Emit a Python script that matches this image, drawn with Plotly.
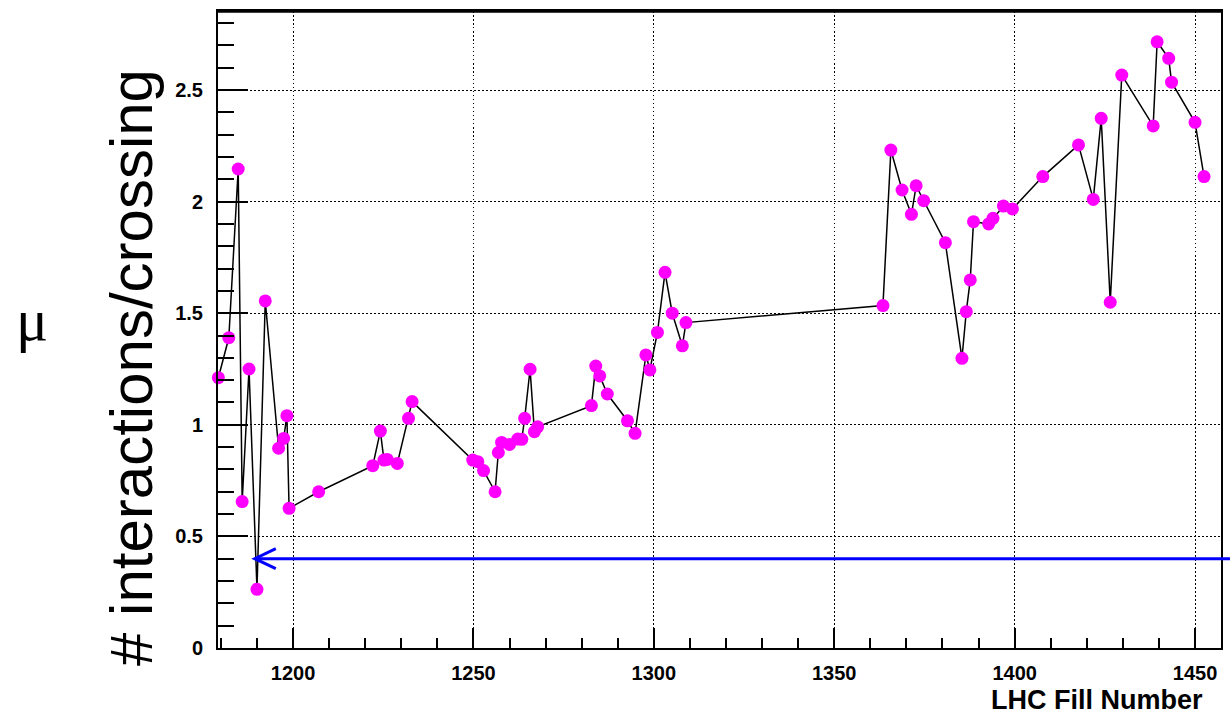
import plotly.graph_objects as go

# Average pile-up per LHC fill
fill_number = [1179.3, 1182.2, 1184.8, 1185.9, 1187.8, 1190.0, 1192.3, 1196.0, 1197.4, 1198.3,
               1198.9, 1207.1, 1222.1, 1224.2, 1225.2, 1226.1, 1228.9, 1232.0, 1233.0, 1249.8,
               1251.2, 1252.8, 1256.0, 1256.9, 1257.8, 1260.0, 1262.3, 1263.4, 1264.2, 1265.7,
               1266.9, 1267.8, 1282.7, 1283.9, 1285.0, 1287.1, 1292.7, 1294.8, 1297.8, 1298.9,
               1301.0, 1303.1, 1305.1, 1307.9, 1308.9, 1363.5, 1365.7, 1368.8, 1371.4, 1372.7,
               1374.8, 1380.8, 1385.4, 1386.6, 1387.7, 1388.6, 1392.8, 1394.0, 1396.9, 1399.4,
               1407.8, 1417.7, 1421.8, 1424.0, 1426.5, 1429.7, 1438.4, 1439.5, 1442.7, 1443.5,
               1450.0, 1452.5]
mu = [1.211, 1.390, 2.146, 0.656, 1.250, 0.263, 1.555, 0.895, 0.939, 1.041,
      0.626, 0.700, 0.817, 0.972, 0.842, 0.845, 0.827, 1.029, 1.104, 0.842,
      0.835, 0.795, 0.700, 0.876, 0.921, 0.912, 0.936, 0.935, 1.029, 1.249,
      0.969, 0.991, 1.086, 1.263, 1.219, 1.138, 1.018, 0.962, 1.313, 1.246,
      1.414, 1.683, 1.500, 1.354, 1.458, 1.534, 2.231, 2.052, 1.943, 2.071,
      2.004, 1.816, 1.298, 1.507, 1.649, 1.910, 1.900, 1.925, 1.980, 1.967,
      2.112, 2.254, 2.010, 2.373, 1.549, 2.567, 2.339, 2.716, 2.642, 2.535,
      2.355, 2.112]

x_range = [1179.2, 1457.2]
y_range = [0, 2.854]
x_ticks = [1200, 1250, 1300, 1350, 1400, 1450]
y_ticks = [0, 0.5, 1, 1.5, 2, 2.5]

# Reference level marked by the arrow
arrow_level = 0.4
arrow_tip_fill = 1189.4

fig = go.Figure()
fig.add_trace(go.Scatter(
    x=fill_number, y=mu, mode="lines+markers",
    line=dict(color="black", width=1.5),
    marker=dict(color="#ff00ff", size=13, line=dict(width=0)),
    cliponaxis=False, showlegend=False,
))

tick_font = dict(family="Liberation Sans, Arial, sans-serif", size=20, color="black", weight="bold")

fig.update_xaxes(
    range=x_range, tickvals=x_ticks, ticks="inside", ticklen=20, tickwidth=2, tickcolor="black",
    minor=dict(ticks="inside", ticklen=10, tickwidth=2, tickcolor="black", dtick=10, tick0=1200, showgrid=False),
    showgrid=True, gridcolor="black", gridwidth=1.4, griddash="1.5px,2.5px",
    showline=True, linecolor="black", linewidth=2, mirror=True,
    zeroline=False, tickfont=tick_font, ticklabelstandoff=6,
)
fig.update_yaxes(
    range=y_range, tickvals=y_ticks, ticks="inside", ticklen=30, tickwidth=2, tickcolor="black",
    minor=dict(ticks="inside", ticklen=16, tickwidth=2, tickcolor="black", dtick=0.1, tick0=0, showgrid=False),
    showgrid=True, gridcolor="black", gridwidth=1.4, griddash="1.5px,2.5px",
    showline=True, linecolor="black", linewidth=2, mirror=True,
    zeroline=False, tickfont=tick_font, ticklabelstandoff=9,
)

# Heavier frame edge along the top
fig.add_shape(type="line", xref="paper", yref="paper", x0=0, x1=1, y0=1, y1=1,
              line=dict(color="black", width=3.5))

# Arrow: shaft running off the right edge, open head at the tip
tip_frac = (arrow_tip_fill - x_range[0]) / (x_range[1] - x_range[0])
fig.add_shape(type="line", xref="paper", yref="y", x0=tip_frac, x1=1.02,
              y0=arrow_level, y1=arrow_level, line=dict(color="#0000ff", width=3))
fig.add_shape(type="path", xref="x", yref="y", xsizemode="pixel", ysizemode="pixel",
              xanchor=arrow_tip_fill, yanchor=arrow_level,
              path="M 21,-10 L 0,0 L 21,10", line=dict(color="#0000ff", width=3))

# Axis titles
fig.add_annotation(text="LHC Fill Number", xref="paper", yref="paper", x=0.9845, y=-0.081,
                   xanchor="right", yanchor="middle", showarrow=False,
                   font=dict(family="Liberation Sans, Arial, sans-serif", size=27, color="black", weight="bold"))
fig.add_annotation(text="# interactions/crossing", xref="paper", yref="paper", x=-0.0865, y=0.44,
                   xanchor="center", yanchor="middle", textangle=-90, showarrow=False,
                   font=dict(family="Liberation Sans, Arial, sans-serif", size=60, color="black"))
fig.add_annotation(text="μ", xref="paper", yref="paper", x=-0.185, y=0.515,
                   xanchor="center", yanchor="middle", showarrow=False,
                   font=dict(family="Liberation Serif, Times New Roman, serif", size=60, color="black"))

fig.update_layout(
    width=1230, height=714,
    margin=dict(l=218, r=7, t=11, b=66),
    paper_bgcolor="white", plot_bgcolor="white",
)

fig.write_html("out.html")
